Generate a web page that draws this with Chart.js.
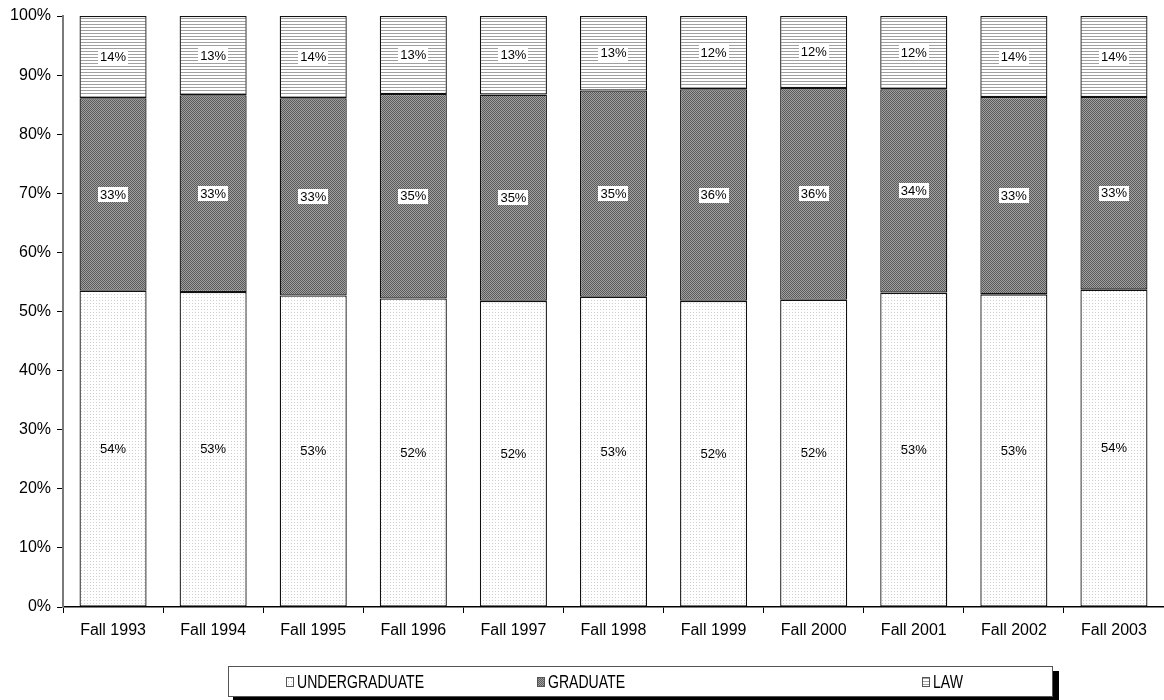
<!DOCTYPE html>
<html>
<head>
<meta charset="utf-8">
<script src="https://cdn.jsdelivr.net/npm/chart.js@4"></script>
<style>
html,body{margin:0;padding:0;background:#fff;overflow:hidden;}
#wrap{position:relative;width:1164px;height:700px;}
</style>
</head>
<body>
<div id="wrap"><canvas id="c" width="1164" height="700"></canvas></div>
<script>
const categories = ['Fall 1993','Fall 1994','Fall 1995','Fall 1996','Fall 1997','Fall 1998','Fall 1999','Fall 2000','Fall 2001','Fall 2002','Fall 2003'];
const undergraduate = [53.5,53.3,52.7,52.2,51.8,52.5,51.8,52.0,53.2,52.9,53.7];
const graduate      = [32.6,33.3,33.4,34.6,34.9,34.9,35.8,35.8,34.4,33.4,32.6];
const law           = [13.9,13.4,13.9,13.2,13.3,12.6,12.4,12.2,12.4,13.7,13.7];
const seriesNames = ['UNDERGRADUATE','GRADUATE','LAW'];
const yTicks = [0,10,20,30,40,50,60,70,80,90,100];

const FONT = '"Liberation Sans", Arial, sans-serif';

function makePattern(w, h, draw) {
  const cv = document.createElement('canvas');
  cv.width = w; cv.height = h;
  const g = cv.getContext('2d');
  draw(g);
  return document.getElementById('c').getContext('2d').createPattern(cv, 'repeat');
}
const patUnder = makePattern(3, 3, g => {
  g.fillStyle = '#ffffff'; g.fillRect(0,0,3,3);
  g.fillStyle = '#cfcfcf'; g.fillRect(0,0,1,1);
});
const patGrad = makePattern(2, 2, g => {
  g.fillStyle = '#a0a0a0'; g.fillRect(0,0,2,2);
  g.fillStyle = '#5a5a5a'; g.fillRect(0,0,1,1); g.fillRect(1,1,1,1);
});
const patLaw = makePattern(1, 3, g => {
  g.fillStyle = '#ffffff'; g.fillRect(0,0,1,3);
  g.fillStyle = '#a0a0a0'; g.fillRect(0,0,1,1);
});
const patterns = [patUnder, patGrad, patLaw];

const labelPlugin = {
  id: 'segLabels',
  afterDatasetsDraw(chart) {
    const ctx = chart.ctx;
    ctx.save();
    ctx.font = '13px ' + FONT;
    ctx.textAlign = 'center';
    ctx.textBaseline = 'middle';
    chart.data.datasets.forEach((ds, di) => {
      const meta = chart.getDatasetMeta(di);
      meta.data.forEach((el, i) => {
        const txt = Math.round(ds.data[i]) + '%';
        const cx = el.x;
        const cy = (el.y + el.base) / 2;
        const tw = ctx.measureText(txt).width;
        if (di > 0) {
          ctx.fillStyle = '#ffffff';
          ctx.fillRect(Math.round(cx - tw/2 - 2), Math.round(cy - 7.5), Math.round(tw + 4), 15);
        }
        ctx.fillStyle = '#000000';
        ctx.fillText(txt, cx, cy + 0.5);
      });
    });
    ctx.restore();
  }
};

const legendPlugin = {
  id: 'boxLegend',
  afterDraw(chart) {
    const ctx = chart.ctx;
    ctx.save();
    ctx.fillStyle = '#000';
    ctx.fillRect(233, 671, 826, 32);
    ctx.fillStyle = '#fff';
    ctx.fillRect(228, 666, 825, 31);
    ctx.strokeStyle = '#555';
    ctx.lineWidth = 1;
    ctx.strokeRect(228.5, 666.5, 824, 30);
    const items = [286, 537, 922];
    ctx.textBaseline = 'middle';
    ctx.textAlign = 'left';
    seriesNames.forEach((name, k) => {
      const x = items[k];
      ctx.fillStyle = patterns[k];
      ctx.fillRect(x, 677, 8, 10);
      ctx.strokeStyle = '#555';
      ctx.strokeRect(x + 0.5, 677.5, 7, 9);
      ctx.save();
      ctx.translate(x + 11, 682.5);
      ctx.scale(0.74, 1);
      ctx.font = '19px ' + FONT;
      ctx.fillStyle = '#000';
      ctx.fillText(name, 0, 0);
      ctx.restore();
    });
    ctx.restore();
  }
};

const datasets = [undergraduate, graduate, law].map((vals, k) => ({
  label: seriesNames[k],
  data: vals,
  backgroundColor: patterns[k],
  borderColor: '#111111',
  borderWidth: 1.3,
  borderSkipped: false,
  categoryPercentage: 1.0,
  barPercentage: 0.67
}));

new Chart(document.getElementById('c'), {
  type: 'bar',
  data: { labels: categories, datasets },
  plugins: [labelPlugin, legendPlugin],
  options: {
    responsive: false,
    animation: false,
    devicePixelRatio: 1,
    layout: { padding: { top: 16, left: 0, right: -3, bottom: 63 } },
    plugins: { legend: { display: false }, tooltip: { enabled: false } },
    scales: {
      x: {
        stacked: true,
        offset: true,
        afterFit(s) { s.height = 30; },
        grid: { drawOnChartArea: false, drawTicks: true, tickLength: 6, offset: true, color: '#000' },
        border: { display: true, color: '#000', width: 1.5 },
        ticks: { color: '#000', font: { family: FONT, size: 16 }, padding: 8, maxRotation: 0, autoSkip: false }
      },
      y: {
        stacked: true,
        min: 0, max: 100,
        afterFit(s) { s.width = 63; },
        afterBuildTicks(s) { s.ticks = yTicks.map(v => ({ value: v })); },
        grid: { drawOnChartArea: false, drawTicks: true, tickLength: 6, color: '#000' },
        border: { display: true, color: '#7a7a7a', width: 2 },
        ticks: { color: '#000', font: { family: FONT, size: 16 }, padding: 6, callback: v => v + '%' }
      }
    }
  }
});
</script>
</body>
</html>
